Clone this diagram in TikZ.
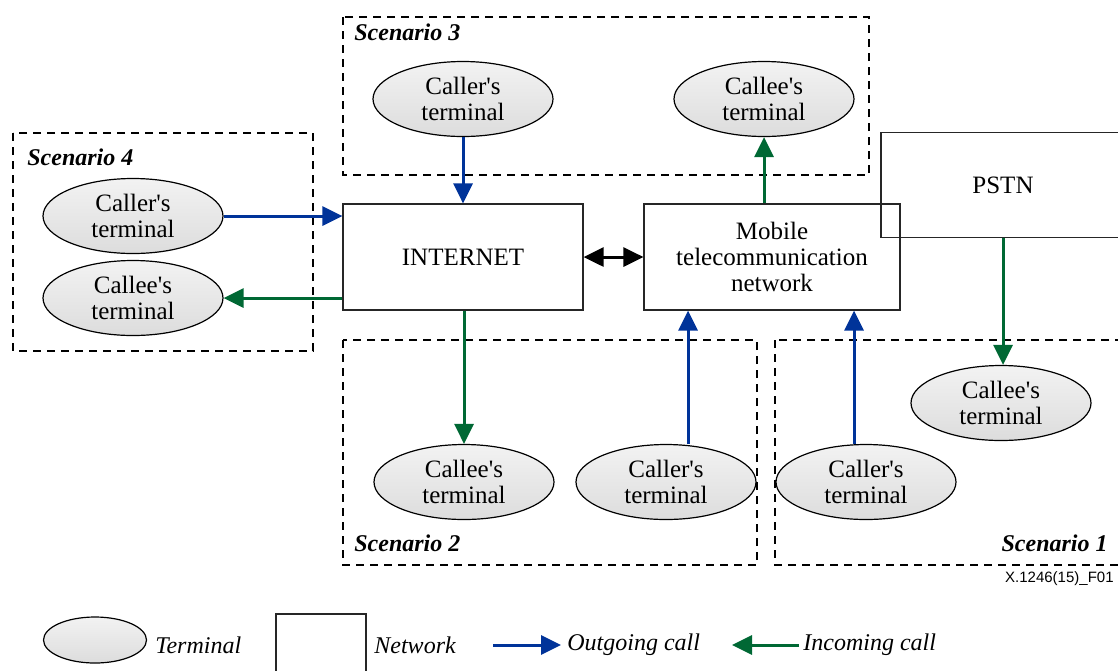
\documentclass[tikz,border=0pt]{standalone}
\usepackage{fontspec}
\newfontfamily\tnr{Liberation Serif}
\newfontfamily\arl{Liberation Sans}
\usetikzlibrary{arrows.meta,shapes.geometric,calc}
\definecolor{callblue}{RGB}{0,51,153}
\definecolor{callgreen}{RGB}{0,104,52}
\tikzset{
    terminal/.style={ellipse,draw=black,line width=0.6pt,top color=gray!10,bottom color=gray!27,
        minimum width=90pt,minimum height=37.5pt,inner sep=0pt,align=center,
        font=\tnr\fontsize{12.5}{13}\selectfont},
    network/.style={rectangle,draw=black!85,line width=0.6pt,align=center,inner sep=0pt,
        font=\tnr\fontsize{12.5}{13}\selectfont},
    scenario/.style={draw=black,dash pattern=on 4pt off 3pt,line width=0.8pt},
    sclabel/.style={inner sep=0pt,font=\tnr\bfseries\itshape\fontsize{12}{14}\selectfont},
    legtext/.style={anchor=west,inner sep=0pt,font=\tnr\itshape\fontsize{12}{14}\selectfont},
    outgoing/.style={-{Triangle[length=10pt,width=9.5pt]},callblue,line width=1.5pt},
    incoming/.style={-{Triangle[length=10pt,width=9.5pt]},callgreen,line width=1.5pt}
}
\begin{document}
\begin{tikzpicture}[x=0.5pt,y=-0.5pt]
    \useasboundingbox (0,0) rectangle (1118,670);
    \clip (0,0) rectangle (1118,670);
    % scenario frames
    \draw[scenario] (343,17) rectangle (869,175);
    \draw[scenario] (13,133) rectangle (313,351);
    \draw[scenario] (343,340) rectangle (757,565);
    \draw[scenario] (775,340) rectangle (1130,565);
    \node[sclabel,anchor=west] (sc3) at (354,32) {Scenario 3};
    \node[sclabel,anchor=west] (sc4) at (27,157) {Scenario 4};
    \node[sclabel,anchor=west] (sc2) at (354,543) {Scenario 2};
    \node[sclabel,anchor=east] (sc1) at (1108,543) {Scenario 1};
    % networks
    \node[network,minimum width=120pt,minimum height=53pt] (internet) at (463,257) {INTERNET};
    \node[network,minimum width=128pt,minimum height=53pt] (mobile) at (772,257) {Mobile\\telecommunication\\network};
    \node[network,minimum width=122pt,minimum height=52.5pt] (pstn) at (1003,185) {PSTN};
    % terminals
    \node[terminal] (s3caller) at (463,99) {Caller's\\terminal};
    \node[terminal] (s3callee) at (764,99) {Callee's\\terminal};
    \node[terminal] (s4caller) at (133,216) {Caller's\\terminal};
    \node[terminal] (s4callee) at (133,298) {Callee's\\terminal};
    \node[terminal] (s2callee) at (464,482) {Callee's\\terminal};
    \node[terminal] (s2caller) at (666,482) {Caller's\\terminal};
    \node[terminal] (s1caller) at (866,482) {Caller's\\terminal};
    \node[terminal] (s1callee) at (1001,403) {Callee's\\terminal};
    % calls
    \draw[outgoing] (s3caller.south) -- (s3caller.south |- internet.north);
    \draw[outgoing] (s4caller.east) -- (s4caller.east -| internet.west);
    \draw[incoming] (internet.west |- s4callee.east) -- (s4callee.east);
    \draw[incoming] (s3callee.south |- mobile.north) -- (s3callee.south);
    \draw[{Triangle[length=10pt,width=9.5pt]}-{Triangle[length=10pt,width=9.5pt]},black,line width=1.5pt] (internet.east) -- (mobile.west);
    \draw[incoming] (s2callee.north |- internet.south) -- (s2callee.north);
    \draw[outgoing] ([xshift=11pt]s2caller.north) -- ([xshift=11pt]s2caller.north |- mobile.south);
    \draw[outgoing] ([xshift=-6pt]s1caller.north) -- ([xshift=-6pt]s1caller.north |- mobile.south);
    \draw[incoming] (pstn.south) -- (pstn.south |- s1callee.north);
    \node[anchor=east,inner sep=0pt,font=\arl\fontsize{7.5}{9}\selectfont] (figno) at (1114,579) {X.1246(15)\_F01};
    % legend
    \node[terminal,minimum width=51.5pt,minimum height=23pt] (legterm) at (95,640) {};
    \node[legtext] (termlbl) at (155,645) {Terminal};
    \node[network,minimum width=45pt,minimum height=33pt] (legnet) at (321,647) {};
    \node[legtext] (netlbl) at (374,645) {Network};
    \coordinate (outs) at (493,645);
    \coordinate (oute) at (561,645);
    \draw[outgoing] (outs) -- (oute);
    \node[legtext] (outlbl) at (567,645) {Outgoing call};
    \coordinate (ins) at (799,645);
    \coordinate (ine) at (732,645);
    \draw[incoming] (ins) -- (ine);
    \node[legtext] (inlbl) at (803,645) {Incoming call};
\end{tikzpicture}
\end{document}
